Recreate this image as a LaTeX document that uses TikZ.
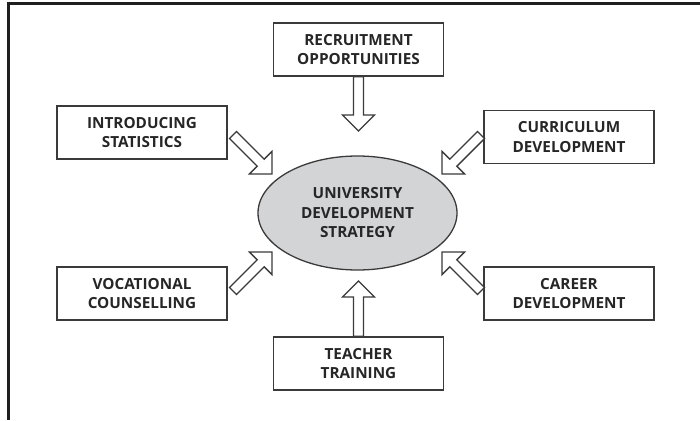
\documentclass[tikz,border=0pt]{standalone}
\usepackage{fontspec}
\setmainfont{Open Sans}
\usetikzlibrary{calc,shapes.geometric}
\definecolor{txt}{HTML}{262626}
\definecolor{edge}{HTML}{3A3A3A}
\definecolor{hub}{HTML}{D3D4D6}
\definecolor{frame}{HTML}{1F1F1F}
\tikzset{
  labelfont/.style={font=\bfseries\fontsize{15.3}{19.5}\selectfont, text=txt, align=center},
  topic/.style={labelfont, draw=edge, line width=1.3pt, minimum width=170pt,
    minimum height=53pt, inner sep=0pt},
  hubnode/.style={labelfont, ellipse, draw=edge, fill=hub, line width=1.3pt,
    minimum width=199pt, minimum height=114pt, inner sep=0pt},
  blockarrow/.style={draw=edge, fill=white, line width=1.3pt, line join=miter},
}
% hollow block arrow from #1 (tail) to #2 (tip)
\newcommand\hollowarrow[2]{%
  \coordinate (hb) at ($(#2)!16pt!(#1)$);
  \draw[blockarrow]
    ($(#1)!5pt!90:(#2)$) -- ($(hb)!5pt!-90:(#1)$) -- ($(hb)!16pt!-90:(#1)$)
    -- (#2) -- ($(hb)!16pt!90:(#1)$) -- ($(hb)!5pt!90:(#1)$)
    -- ($(#1)!5pt!-90:(#2)$) -- cycle;}
\begin{document}
\begin{tikzpicture}[x=1pt, y=-1pt]
  \useasboundingbox (0,0) rectangle (700,420);
  % frame on the left and top
  \draw[frame, line width=3pt] (8,420) -- (8,4) -- (700,4);

  \node[hubnode] (uni) at (357.5,213) {UNIVERSITY\\DEVELOPMENT\\STRATEGY};

  \node[topic] (rec) at (358.5,49.5) {RECRUITMENT\\OPPORTUNITIES};
  \node[topic] (intro) at (142,132.5) {INTRODUCING\\STATISTICS};
  \node[topic] (cur) at (569,137) {CURRICULUM\\DEVELOPMENT};
  \node[topic] (voc) at (142,293.5) {VOCATIONAL\\COUNSELLING};
  \node[topic] (car) at (569,293.5) {CAREER\\DEVELOPMENT};
  \node[topic] (tea) at (358.5,363.5) {TEACHER\\TRAINING};

  % arrow ends
  \coordinate (recTip) at (358.5,131);
  \coordinate (teaTip) at (358.5,281);
  \coordinate (introTail) at (233,135);
  \coordinate (introTip) at (272,174);
  \coordinate (curTail) at (481,135);
  \coordinate (curTip) at (442,174);
  \coordinate (vocTail) at (233,291);
  \coordinate (vocTip) at (272,252);
  \coordinate (carTail) at (481,291);
  \coordinate (carTip) at (442,252);

  \hollowarrow{rec.south}{recTip}
  \hollowarrow{tea.north}{teaTip}
  \hollowarrow{introTail}{introTip}
  \hollowarrow{curTail}{curTip}
  \hollowarrow{vocTail}{vocTip}
  \hollowarrow{carTail}{carTip}
\end{tikzpicture}
\end{document}
